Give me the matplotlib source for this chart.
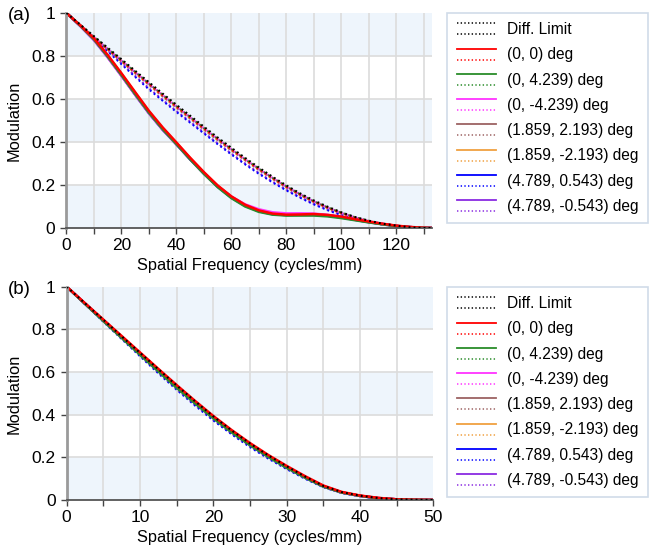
import numpy as np
import matplotlib
matplotlib.use("Agg")
import matplotlib.pyplot as plt
from matplotlib.legend_handler import HandlerBase
from matplotlib.lines import Line2D

plt.rcParams['font.family'] = ['Liberation Sans', 'DejaVu Sans']

# ---------------- data ----------------
labels = ['(0, 0) deg', '(0, 4.239) deg', '(0, -4.239) deg', '(1.859, 2.193) deg',
          '(1.859, -2.193) deg', '(4.789, 0.543) deg', '(4.789, -0.543) deg']
colors = ['#ff0000', '#2a8c2a', '#ff33ff', '#9c6262', '#f0a040', '#0000ff', '#8a2be2']

# panel (a), x step 5 cycles/mm
freq_a = [0, 5, 10, 15, 20, 25, 30, 35, 40, 45, 50, 55, 60, 65, 70, 75, 80, 85, 90, 95,
          100, 105, 110, 115, 120, 125, 130, 133]
diff_a = [1.0, 0.946, 0.892, 0.838, 0.785, 0.731, 0.678, 0.625, 0.573, 0.522, 0.471, 0.421, 0.373,
          0.326, 0.281, 0.238, 0.198, 0.161, 0.128, 0.099, 0.073, 0.051, 0.034, 0.02, 0.011, 0.003, 0.0, 0.0]

tan_a = [
    # red
    [1.0, 0.943, 0.882, 0.805, 0.72, 0.632, 0.545, 0.468, 0.398, 0.327, 0.26, 0.198, 0.147, 0.108,
     0.082, 0.067, 0.062, 0.063, 0.065, 0.061, 0.053, 0.041, 0.03, 0.02, 0.011, 0.005, 0.001, 0.0],
    # green
    [1.0, 0.941, 0.877, 0.797, 0.711, 0.622, 0.536, 0.459, 0.39, 0.319, 0.252, 0.19, 0.139, 0.1,
     0.075, 0.062, 0.058, 0.058, 0.058, 0.054, 0.046, 0.036, 0.026, 0.017, 0.009, 0.004, 0.001, 0.0],
    # magenta
    [1.0, 0.94, 0.874, 0.793, 0.707, 0.619, 0.533, 0.457, 0.389, 0.32, 0.254, 0.194, 0.146, 0.11,
     0.087, 0.073, 0.068, 0.068, 0.067, 0.061, 0.052, 0.04, 0.029, 0.019, 0.01, 0.004, 0.001, 0.0],
    # brown
    [1.0, 0.942, 0.879, 0.801, 0.716, 0.628, 0.541, 0.464, 0.395, 0.324, 0.257, 0.196, 0.145, 0.107,
     0.081, 0.066, 0.061, 0.062, 0.063, 0.059, 0.051, 0.04, 0.029, 0.019, 0.01, 0.004, 0.001, 0.0],
    # orange
    [1.0, 0.942, 0.879, 0.8, 0.715, 0.627, 0.54, 0.463, 0.394, 0.323, 0.256, 0.195, 0.144, 0.106,
     0.08, 0.065, 0.06, 0.061, 0.062, 0.058, 0.05, 0.039, 0.028, 0.018, 0.01, 0.004, 0.001, 0.0],
    # blue
    [1.0, 0.941, 0.876, 0.796, 0.71, 0.621, 0.535, 0.458, 0.39, 0.32, 0.253, 0.192, 0.141, 0.103,
     0.078, 0.064, 0.06, 0.061, 0.061, 0.057, 0.049, 0.038, 0.027, 0.018, 0.009, 0.004, 0.001, 0.0],
    # purple
    [1.0, 0.94, 0.875, 0.795, 0.709, 0.62, 0.534, 0.457, 0.389, 0.319, 0.253, 0.193, 0.143, 0.106,
     0.082, 0.068, 0.064, 0.065, 0.064, 0.059, 0.05, 0.039, 0.028, 0.018, 0.009, 0.004, 0.001, 0.0],
]

sag_a = [
    # red
    [1.0, 0.944, 0.888, 0.833, 0.778, 0.724, 0.67, 0.617, 0.565, 0.514, 0.463, 0.414, 0.365,
     0.319, 0.274, 0.232, 0.192, 0.156, 0.123, 0.095, 0.07, 0.049, 0.032, 0.019, 0.01, 0.003, 0.0, 0.0],
    # green
    [1.0, 0.945, 0.889, 0.834, 0.78, 0.726, 0.672, 0.619, 0.567, 0.516, 0.465, 0.415, 0.367,
     0.32, 0.276, 0.233, 0.194, 0.157, 0.124, 0.096, 0.071, 0.05, 0.033, 0.019, 0.01, 0.003, 0.0, 0.0],
    # magenta
    [1.0, 0.944, 0.888, 0.833, 0.779, 0.725, 0.671, 0.618, 0.566, 0.515, 0.464, 0.415, 0.366,
     0.32, 0.275, 0.233, 0.193, 0.157, 0.124, 0.095, 0.07, 0.049, 0.032, 0.019, 0.01, 0.003, 0.0, 0.0],
    # brown
    [1.0, 0.943, 0.886, 0.83, 0.775, 0.72, 0.666, 0.612, 0.56, 0.509, 0.458, 0.409, 0.361,
     0.315, 0.27, 0.228, 0.189, 0.153, 0.121, 0.093, 0.068, 0.048, 0.031, 0.018, 0.009, 0.003, 0.0, 0.0],
    # orange
    [1.0, 0.943, 0.886, 0.83, 0.775, 0.72, 0.666, 0.612, 0.56, 0.509, 0.458, 0.409, 0.361,
     0.315, 0.27, 0.228, 0.189, 0.153, 0.121, 0.093, 0.068, 0.048, 0.031, 0.018, 0.009, 0.003, 0.0, 0.0],
    # blue
    [1.0, 0.941, 0.882, 0.822, 0.762, 0.703, 0.645, 0.592, 0.54, 0.49, 0.44, 0.39, 0.342,
     0.296, 0.252, 0.212, 0.175, 0.141, 0.11, 0.083, 0.06, 0.042, 0.027, 0.016, 0.008, 0.002, 0.0, 0.0],
    # purple
    [1.0, 0.942, 0.884, 0.825, 0.766, 0.707, 0.65, 0.596, 0.544, 0.494, 0.444, 0.394, 0.346,
     0.3, 0.256, 0.215, 0.178, 0.143, 0.112, 0.085, 0.062, 0.043, 0.028, 0.016, 0.008, 0.002, 0.0, 0.0],
]

# panel (b), x step 2.5 cycles/mm
freq_b = [0, 2.5, 5, 7.5, 10, 12.5, 15, 17.5, 20, 22.5, 25, 27.5, 30, 32.5, 35, 37.5, 40, 42.5, 45, 47.5, 50]
diff_b = [1.0, 0.922, 0.845, 0.767, 0.69, 0.613, 0.537, 0.463, 0.392, 0.326, 0.265, 0.209, 0.158,
          0.11, 0.066, 0.037, 0.02, 0.009, 0.003, 0.001, 0.0]

tan_b = [
    [1.0, 0.923, 0.846, 0.769, 0.692, 0.615, 0.539, 0.465, 0.394, 0.328, 0.267, 0.211, 0.16,
     0.112, 0.068, 0.038, 0.021, 0.01, 0.003, 0.001, 0.0],
    [1.0, 0.919, 0.839, 0.76, 0.681, 0.603, 0.526, 0.453, 0.383, 0.317, 0.257, 0.202, 0.151,
     0.105, 0.063, 0.035, 0.019, 0.008, 0.003, 0.001, 0.0],
    [1.0, 0.921, 0.842, 0.764, 0.686, 0.608, 0.532, 0.458, 0.387, 0.321, 0.26, 0.205, 0.154,
     0.107, 0.064, 0.036, 0.019, 0.009, 0.003, 0.001, 0.0],
    [1.0, 0.921, 0.843, 0.765, 0.687, 0.61, 0.534, 0.46, 0.389, 0.323, 0.262, 0.206, 0.155,
     0.108, 0.065, 0.036, 0.02, 0.009, 0.003, 0.001, 0.0],
    [1.0, 0.921, 0.843, 0.765, 0.687, 0.61, 0.534, 0.46, 0.389, 0.323, 0.262, 0.206, 0.155,
     0.108, 0.065, 0.036, 0.02, 0.009, 0.003, 0.001, 0.0],
    [1.0, 0.92, 0.841, 0.762, 0.683, 0.605, 0.529, 0.455, 0.385, 0.319, 0.258, 0.203, 0.152,
     0.106, 0.063, 0.035, 0.019, 0.008, 0.003, 0.001, 0.0],
    [1.0, 0.92, 0.841, 0.762, 0.684, 0.606, 0.53, 0.456, 0.386, 0.32, 0.259, 0.204, 0.153,
     0.106, 0.064, 0.035, 0.019, 0.008, 0.003, 0.001, 0.0],
]

sag_b = [
    [1.0, 0.922, 0.844, 0.766, 0.689, 0.612, 0.536, 0.462, 0.391, 0.325, 0.264, 0.208, 0.157,
     0.109, 0.066, 0.037, 0.02, 0.009, 0.003, 0.001, 0.0],
    [1.0, 0.921, 0.843, 0.765, 0.687, 0.61, 0.534, 0.46, 0.389, 0.323, 0.262, 0.206, 0.155,
     0.108, 0.065, 0.036, 0.02, 0.009, 0.003, 0.001, 0.0],
    [1.0, 0.921, 0.843, 0.765, 0.687, 0.61, 0.534, 0.46, 0.389, 0.323, 0.262, 0.206, 0.155,
     0.108, 0.065, 0.036, 0.02, 0.009, 0.003, 0.001, 0.0],
    [1.0, 0.921, 0.842, 0.764, 0.686, 0.609, 0.533, 0.459, 0.388, 0.322, 0.261, 0.205, 0.154,
     0.107, 0.064, 0.036, 0.019, 0.009, 0.003, 0.001, 0.0],
    [1.0, 0.921, 0.842, 0.764, 0.686, 0.609, 0.533, 0.459, 0.388, 0.322, 0.261, 0.205, 0.154,
     0.107, 0.064, 0.036, 0.019, 0.009, 0.003, 0.001, 0.0],
    [1.0, 0.918, 0.836, 0.755, 0.674, 0.594, 0.517, 0.443, 0.373, 0.308, 0.248, 0.194, 0.145,
     0.1, 0.06, 0.033, 0.018, 0.008, 0.003, 0.001, 0.0],
    [1.0, 0.919, 0.838, 0.757, 0.677, 0.597, 0.52, 0.446, 0.376, 0.311, 0.251, 0.196, 0.147,
     0.101, 0.061, 0.034, 0.018, 0.008, 0.003, 0.001, 0.0],
]

DOT = (0, (0.9, 1.5))
BAND = '#eef5fc'
GRID = '#dcdcdc'


# legend handle: two short lines stacked (tangential on top, sagittal below)
class PairHandler(HandlerBase):
    def create_artists(self, legend, orig_handle, xdescent, ydescent, width, height, fontsize, trans):
        mid = height / 2.0 - ydescent
        arts = []
        for ln, dy in zip(orig_handle, [3.8, -4.2]):
            l = Line2D([-xdescent, -xdescent + width], [mid + dy, mid + dy])
            l.update_from(ln)
            l.set_transform(trans)
            arts.append(l)
        return arts


def draw_panel(ax, freq, diff, tans, sags, xmax, major, minor):
    for lo in [0, 0.4, 0.8]:
        ax.axhspan(lo, lo + 0.2, color=BAND, lw=0, zorder=0)
    for yv in [0.2, 0.4, 0.6, 0.8]:
        ax.axhline(yv, color=GRID, lw=1.2, zorder=0.5)
    for xv in np.arange(minor, xmax, minor):
        ax.axvline(xv, color=GRID, lw=1.2, zorder=0.5)

    # sagittal (dotted) and diffraction limit
    for i in range(len(sags) - 1, -1, -1):
        ax.plot(freq, sags[i], color=colors[i], ls=(i * 0.6, (0.9, 1.5)), lw=1.5, zorder=2)
    ax.plot(freq, diff, color='black', ls=DOT, lw=1.5, zorder=3)
    # tangential (solid)
    for i in range(len(tans) - 1, -1, -1):
        ax.plot(freq, tans[i], color=colors[i], lw=1.8, zorder=2.5)

    ax.set_xlim(0, xmax)
    ax.set_ylim(0, 1)
    ax.set_xticks(np.arange(0, xmax + 0.1, major))
    ax.set_xticks(np.arange(minor, xmax, minor), minor=True)
    ax.set_yticks([0, 0.2, 0.4, 0.6, 0.8, 1.0])
    ax.set_yticklabels(['0', '0.2', '0.4', '0.6', '0.8', '1'])
    ax.tick_params(axis='both', labelsize=12.5, length=4, width=1, colors='#444444', labelcolor='black')
    ax.tick_params(axis='x', which='minor', length=4, width=1, colors='#444444')
    ax.tick_params(axis='y', pad=4)
    for s in ['top', 'right']:
        ax.spines[s].set_visible(False)
    ax.spines['left'].set_color('#9a9a9a')
    ax.spines['left'].set_linewidth(2)
    ax.spines['bottom'].set_color('#555555')
    ax.spines['bottom'].set_linewidth(1.3)
    ax.set_xlabel('Spatial Frequency (cycles/mm)', fontsize=11.8, labelpad=3)
    ax.set_ylabel('Modulation', fontsize=11.8, labelpad=7)

    handles = [(Line2D([], [], color='black', ls=DOT, lw=1.1), Line2D([], [], color='black', ls=DOT, lw=1.1))]
    for c in colors:
        handles.append((Line2D([], [], color=c, lw=1.3), Line2D([], [], color=c, ls=DOT, lw=1.1)))
    return handles


fig = plt.figure(figsize=(6.53, 5.49), dpi=100)
ax_a = fig.add_axes([0.1018, 0.5847, 0.5598, 0.3916])
ax_b = fig.add_axes([0.1021, 0.0893, 0.5614, 0.3885])

h_a = draw_panel(ax_a, freq_a, diff_a, tan_a, sag_a, 133, 20, 10)
h_b = draw_panel(ax_b, freq_b, diff_b, tan_b, sag_b, 50, 10, 5)

leg_labels = ['Diff. Limit'] + labels
for h, top in [(h_a, 12.7), (h_b, 286.7)]:
    leg = fig.legend(h, leg_labels, handler_map={tuple: PairHandler()},
                     loc='upper left', bbox_to_anchor=(447.3 / 653, 1 - top / 549),
                     fontsize=11.2, frameon=True, fancybox=False, borderpad=0.6,
                     labelspacing=0.66, handlelength=2.5, handletextpad=0.75, borderaxespad=0)
    leg.get_frame().set_edgecolor('#c5d3e3')
    leg.get_frame().set_linewidth(1.2)

fig.text(8 / 653, 1 - 16 / 549, '(a)', fontsize=13.5, va='center', ha='left')
fig.text(8 / 653, 1 - 290 / 549, '(b)', fontsize=13.5, va='center', ha='left')

fig.savefig('out.png', dpi=100)
